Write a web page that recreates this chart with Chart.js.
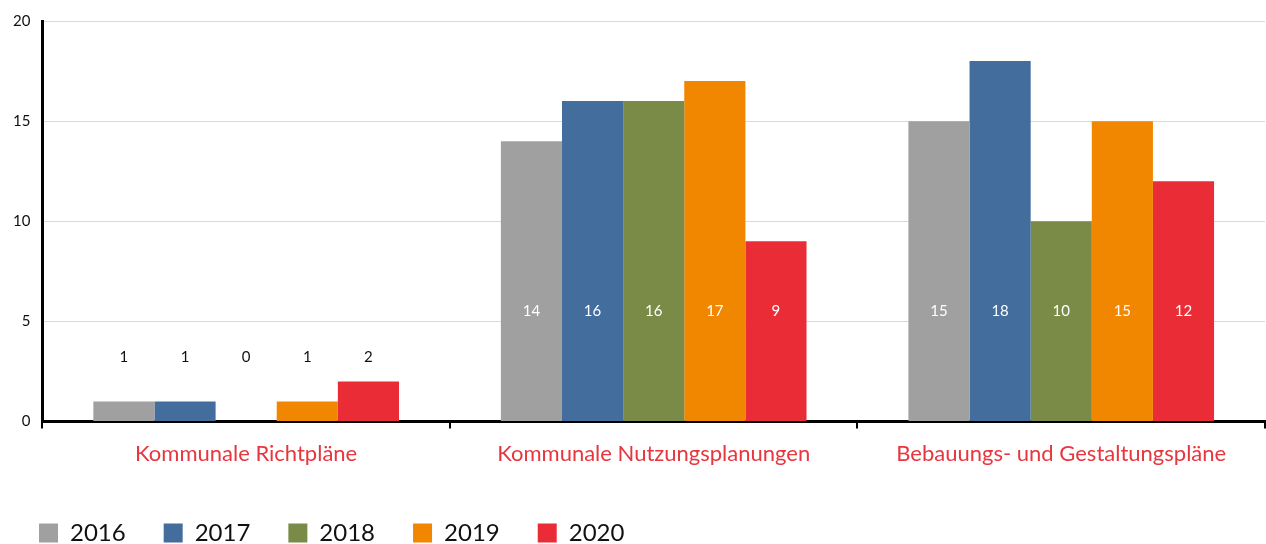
<!DOCTYPE html>
<html>
<head>
<meta charset="utf-8">
<script src="https://cdn.jsdelivr.net/npm/chart.js@4"></script>
<style>
  html, body { margin: 0; padding: 0; background: #fff; }
  #wrap { width: 1266px; height: 544px; }
</style>
</head>
<body>
<div id="wrap"><canvas id="chart"></canvas></div>
<script>
// Kategorien und Werte
const categories = ['Kommunale Richtpläne', 'Kommunale Nutzungsplanungen', 'Bebauungs- und Gestaltungspläne'];
const years = ['2016', '2017', '2018', '2019', '2020'];
const values2016 = [1, 14, 15];
const values2017 = [1, 16, 18];
const values2018 = [0, 16, 10];
const values2019 = [1, 17, 15];
const values2020 = [2, 9, 12];
const yTicks = [0, 5, 10, 15, 20];
// Höhe der Wertbeschriftung je Kategorie (in Achsenwerten)
const labelLevel = [3.2, 5.5, 5.5];

const colors = ['#9fa09f', '#426d9d', '#7a8b48', '#f18600', '#e92c35'];
const allValues = [values2016, values2017, values2018, values2019, values2020];
const fontFamily = 'Lato, "Open Sans", sans-serif';

// Wertbeschriftungen zeichnen
const valueLabels = {
    id: 'valueLabels',
    afterDatasetsDraw(chart) {
        const ctx = chart.ctx;
        const yScale = chart.scales.y;
        ctx.save();
        ctx.font = '15px ' + fontFamily;
        ctx.textAlign = 'center';
        ctx.textBaseline = 'middle';
        chart.data.datasets.forEach((ds, i) => {
            const meta = chart.getDatasetMeta(i);
            meta.data.forEach((bar, j) => {
                const y = yScale.getPixelForValue(labelLevel[j]);
                ctx.fillStyle = ds.data[j] > labelLevel[j] ? '#ffffff' : '#111111';
                ctx.fillText(String(ds.data[j]), bar.x, y);
            });
        });
        ctx.restore();
    }
};

const datasets = years.map((year, i) => ({
    label: year,
    data: allValues[i],
    backgroundColor: colors[i],
    borderWidth: 0,
    categoryPercentage: 0.75,
    barPercentage: 1.0
}));

new Chart(document.getElementById('chart').getContext('2d'), {
    type: 'bar',
    data: { labels: categories, datasets: datasets },
    plugins: [valueLabels],
    options: {
        responsive: true,
        maintainAspectRatio: false,
        animation: false,
        layout: { padding: { left: 1, right: 1, top: 13, bottom: -11 } },
        plugins: {
            tooltip: { enabled: false },
            legend: {
                position: 'bottom',
                align: 'start',
                labels: {
                    boxWidth: 19,
                    boxHeight: 19,
                    padding: 38,
                    color: '#111',
                    font: { family: fontFamily, size: 24 }
                }
            }
        },
        scales: {
            x: {
                offset: true,
                afterFit(axis) {
                    axis.height += 4;
                },
                grid: {
                    offset: true,
                    drawOnChartArea: false,
                    drawTicks: true,
                    tickLength: 7,
                    color: '#000',
                    lineWidth: 2
                },
                border: { display: true, color: '#000', width: 3 },
                ticks: {
                    color: '#e8353e',
                    padding: 12,
                    font: { family: fontFamily, size: 22 }
                }
            },
            y: {
                min: 0,
                max: 20,
                afterBuildTicks(axis) {
                    axis.ticks = yTicks.map(v => ({ value: v }));
                },
                grid: {
                    color: '#d9d9d9',
                    lineWidth: 1,
                    drawTicks: false
                },
                border: { display: true, color: '#000', width: 3 },
                ticks: {
                    color: '#111',
                    padding: 12,
                    font: { family: fontFamily, size: 15 }
                }
            }
        }
    }
});
</script>
</body>
</html>
